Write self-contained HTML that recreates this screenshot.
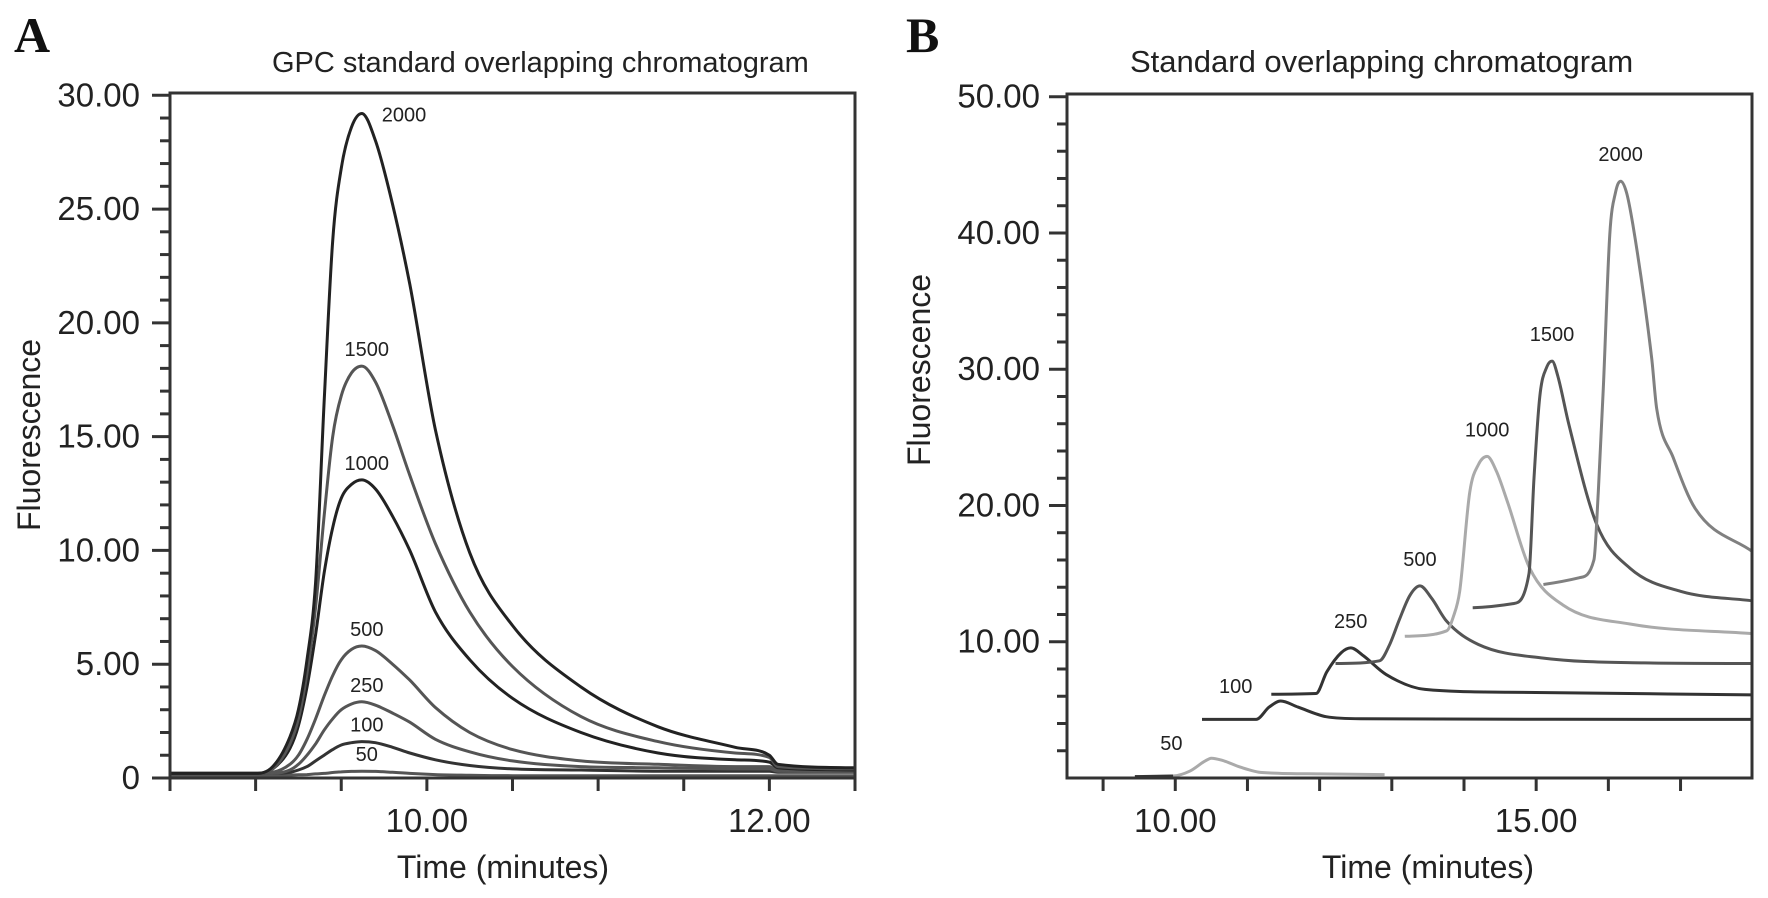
<!DOCTYPE html>
<html><head><meta charset="utf-8"><title>GPC standard overlapping chromatograms</title>
<style>
html,body{margin:0;padding:0;background:#fff;}
svg{display:block;}
text{font-family:"Liberation Sans",Arial,sans-serif;fill:#222;}
</style></head>
<body>
<svg id="fig" width="1768" height="898" viewBox="0 0 1768 898" xmlns="http://www.w3.org/2000/svg">
  <text x="14" y="52" style="font-family:'Liberation Serif',serif;font-weight:bold;font-size:50px;fill:#111">A</text>
  <text x="272" y="72" font-size="29">GPC standard overlapping chromatogram</text>
  <text x="0" y="0" font-size="32" text-anchor="middle" transform="translate(40,435) rotate(-90)">Fluorescence</text>
  <text x="503" y="878" font-size="32" text-anchor="middle">Time (minutes)</text>
  <text x="906" y="52" style="font-family:'Liberation Serif',serif;font-weight:bold;font-size:50px;fill:#111">B</text>
  <text x="1130" y="72" font-size="31">Standard overlapping chromatogram</text>
  <text x="0" y="0" font-size="32" text-anchor="middle" transform="translate(930,370) rotate(-90)">Fluorescence</text>
  <text x="1428" y="878" font-size="32" text-anchor="middle">Time (minutes)</text>
  <g id="plotA"></g>
  <g id="plotB"></g>
</svg>
<script>
// ---------- Panel A data ----------
const timesA = [8.5, 9.0, 9.1, 9.2, 9.25, 9.3, 9.35, 9.4, 9.45, 9.5, 9.56, 9.62, 9.7, 9.8, 9.9, 10.05, 10.25, 10.5, 10.9, 11.35, 11.8, 12.0, 12.05, 12.5];
const a2000 = [0.2,0.2,0.5,1.8,3.0,5.2,8.6,16.5,23.6,26.8,28.6,29.2,28.0,25.2,21.7,15.3,9.9,6.7,4.0,2.25,1.35,1.0,0.6,0.45];
const a1500 = [0.2,0.2,0.4,1.5,2.6,4.6,7.5,11.5,15,16.8,17.8,18.1,17.4,15.5,13.3,10.3,7.3,4.9,2.7,1.6,1.1,0.9,0.5,0.4];
const a1000 = [0.2,0.2,0.4,1.3,2.3,4.0,6.3,9,11,12.3,12.9,13.1,12.7,11.5,10,7.3,5.2,3.5,2.0,1.1,0.8,0.7,0.45,0.35];
const a500 = [0.2,0.2,0.25,0.6,1.0,1.7,2.6,3.6,4.5,5.2,5.65,5.8,5.6,5.0,4.3,3.1,2.0,1.25,0.75,0.6,0.5,0.5,0.35,0.3];
const a250 = [0.2,0.2,0.2,0.35,0.6,1.0,1.5,2.1,2.6,3.0,3.25,3.35,3.2,2.85,2.45,1.7,1.15,0.75,0.5,0.45,0.4,0.4,0.3,0.28];
const a100 = [0.2,0.2,0.2,0.25,0.35,0.5,0.75,1.0,1.25,1.45,1.55,1.6,1.55,1.35,1.1,0.8,0.55,0.4,0.35,0.3,0.3,0.3,0.25,0.25];
const a50 = [0.12,0.12,0.12,0.13,0.14,0.15,0.18,0.2,0.24,0.27,0.29,0.3,0.29,0.25,0.2,0.15,0.12,0.1,0.1,0.1,0.1,0.1,0.1,0.1];
const yTickLabelsA = ["0","5.00","10.00","15.00","20.00","25.00","30.00"];
const yTickValuesA = [0,5,10,15,20,25,30];
const xTickLabelsA = ["10.00","12.00"];
const xTickValuesA = [10,12];

// ---------- Panel B data ----------
const b50t = [9.44, 9.97, 10.2, 10.4, 10.5, 10.65, 10.9, 11.2, 12.0, 12.9];
const b50v = [0.1,0.15,0.5,1.2,1.45,1.3,0.8,0.4,0.3,0.25];
const b100t = [10.37, 11.12, 11.3, 11.46, 11.7, 12.09, 12.57, 18];
const b100v = [4.3,4.3,5.2,5.65,5.2,4.5,4.35,4.3];
const b250t = [11.33, 11.95, 12.1, 12.3, 12.43, 12.6, 12.92, 13.46, 14.6, 18];
const b250v = [6.15,6.2,7.8,9.2,9.55,9.0,7.6,6.5,6.3,6.1];
const b500t = [12.22, 12.83, 12.97, 13.11, 13.25, 13.39, 13.55, 13.76, 14.2, 15.1, 16.5, 18];
const b500v = [8.4,8.6,9.8,11.7,13.4,14.1,13.2,11.5,9.8,8.8,8.45,8.4];
const b1000t = [13.18, 13.76, 13.85, 13.94, 14.08, 14.2, 14.32, 14.45, 14.6, 14.91, 15.37, 16.3, 18];
const b1000v = [10.4,10.8,11.8,13.7,21,23,23.6,22.5,20.3,15.4,12.7,11.3,10.6];
const b1500t = [14.12, 14.68, 14.9, 14.97, 15.05, 15.15, 15.22, 15.3, 15.45, 15.84, 16.3, 17.0, 18];
const b1500v = [12.5,12.8,15,22,28,30.2,30.6,29.5,26,18.6,15.4,13.7,13.0];
const b2000t = [15.1, 15.6, 15.8, 15.86, 15.93, 16.02, 16.1, 16.17, 16.25, 16.34, 16.6, 16.67, 16.9, 17.2, 18];
const b2000v = [14.2,14.7,16,21,28.6,39.9,43,43.8,43,40.6,30.8,27.1,23.5,19.8,16.6];
const yTickLabelsB = ["10.00","20.00","30.00","40.00","50.00"];
const yTickValuesB = [10,20,30,40,50];
const xTickLabelsB = ["10.00","15.00"];
const xTickValuesB = [10,15];

const NS = "http://www.w3.org/2000/svg";
function mk(tag, attrs, parent){
  const e = document.createElementNS(NS, tag);
  for (const k in attrs) e.setAttribute(k, attrs[k]);
  parent.appendChild(e);
  return e;
}
const A = {x0:170, x1:855, y0:778, y1:93, tmin:8.5, tmax:12.5, vmin:0, vmax:30.1};
const B = {x0:1067, x1:1752, y0:778, y1:94, tmin:8.5, tmax:17.99, vmin:0, vmax:50.2};
function xA(t){ return A.x0 + (t - A.tmin) / (A.tmax - A.tmin) * (A.x1 - A.x0); }
function yA(v){ return A.y0 - (v - A.vmin) / (A.vmax - A.vmin) * (A.y0 - A.y1); }
function xB(t){ return B.x0 + (t - B.tmin) / (B.tmax - B.tmin) * (B.x1 - B.x0); }
function yB(v){ return B.y0 - (v - B.vmin) / (B.vmax - B.vmin) * (B.y0 - B.y1); }

function smoothPath(ts, vs, fx, fy){
  const X = ts.map(fx), Y = vs.map(fy), n = X.length;
  if (n < 3) return "M" + X.map((x,i)=>x.toFixed(1)+","+Y[i].toFixed(1)).join(" L");
  const d = [], m = [];
  for (let i=0;i<n-1;i++) d.push((Y[i+1]-Y[i])/(X[i+1]-X[i]));
  m.push(d[0]);
  for (let i=1;i<n-1;i++) m.push(d[i-1]*d[i] <= 0 ? 0 : (d[i-1]+d[i])/2);
  m.push(d[n-2]);
  for (let i=0;i<n-1;i++){
    if (d[i] === 0){ m[i]=0; m[i+1]=0; continue; }
    const a = m[i]/d[i], b = m[i+1]/d[i], s = a*a+b*b;
    if (s > 9){ const t = 3/Math.sqrt(s); m[i]=t*a*d[i]; m[i+1]=t*b*d[i]; }
  }
  let p = "M"+X[0].toFixed(1)+","+Y[0].toFixed(1);
  for (let i=0;i<n-1;i++){
    const h = (X[i+1]-X[i])/3;
    p += " C"+(X[i]+h).toFixed(1)+","+(Y[i]+m[i]*h).toFixed(1)+" "+(X[i+1]-h).toFixed(1)+","+(Y[i+1]-m[i+1]*h).toFixed(1)+" "+X[i+1].toFixed(1)+","+Y[i+1].toFixed(1);
  }
  return p;
}

const gA = document.getElementById('plotA');
const gB = document.getElementById('plotB');

// ---- Panel A series ----
const seriesA = [a50, a100, a250, a500, a1000, a1500, a2000];
const namesA = ["50","100","250","500","1000","1500","2000"];
const colorsA = ["#555","#333","#555","#555","#222","#555","#222"];
seriesA.forEach((vals, i) => {
  const p = mk('path', {d: smoothPath(timesA, vals, xA, yA), fill:'none', stroke:colorsA[i], 'stroke-width':3, 'stroke-linejoin':'round'}, gA);
  
  
  const peak = Math.max(...vals);
  const pi = vals.indexOf(peak);
  const lbl = mk('text', {x: (i===6 ? xA(timesA[pi]) + 20 : xA(timesA[pi]) + 5), y: yA(peak) - (i===6 ? -8 : 10), 'font-size':20, 'text-anchor': i===6 ? 'start':'middle'}, gA);
  lbl.textContent = namesA[i];
  
  
});

// ---- Panel A axes ----
let axA = mk('path', {d:`M${A.x0},${A.y1} H${A.x1} V${A.y0} H${A.x0} Z`, fill:'none', stroke:'#333', 'stroke-width':3}, gA);


for (let v = 0; v <= 30; v += 1) {
  const major = v % 5 === 0;
  const t = mk('line', {x1:A.x0 - (major ? 18 : 10), x2:A.x0, y1:yA(v), y2:yA(v), stroke:'#333', 'stroke-width':3}, gA);
  
  
}
yTickValuesA.forEach((v, i) => {
  const t = mk('text', {x:140, y:yA(v) + 11, 'font-size':33, 'text-anchor':'end'}, gA);
  t.textContent = yTickLabelsA[i];
  
  
});
for (let tt = 8.5; tt <= 12.01; tt += 0.5) {
  const t = mk('line', {x1:xA(tt), x2:xA(tt), y1:A.y0, y2:A.y0 + 13, stroke:'#333', 'stroke-width':3}, gA);
  
  
}
const endTickA = mk('line', {x1:A.x1, x2:A.x1, y1:A.y0, y2:A.y0+13, stroke:'#333','stroke-width':3}, gA);


xTickValuesA.forEach((v, i) => {
  const t = mk('text', {x:xA(v), y:832, 'font-size':33, 'text-anchor':'middle'}, gA);
  t.textContent = xTickLabelsA[i];
  
  
});

// ---- Panel B series ----
const seriesB = [[b50t,b50v],[b100t,b100v],[b250t,b250v],[b500t,b500v],[b1000t,b1000v],[b1500t,b1500v],[b2000t,b2000v]];
const namesB = ["50","100","250","500","1000","1500","2000"];
const colorsB = ["#aaa","#333","#333","#555","#aaa","#555","#808080"];
seriesB.forEach((s, i) => {
  const p = mk('path', {d: smoothPath(s[0], s[1], xB, yB), fill:'none', stroke:colorsB[i], 'stroke-width':3, 'stroke-linejoin':'round'}, gB);
  
  
  const peak = Math.max(...s[1]);
  const pi = s[1].indexOf(peak);
  const dx = (i === 1) ? -45 : (i === 0 ? -40 : 0);
  const dy = (i <= 1) ? -8 : -20;
  const lbl = mk('text', {x: xB(s[0][pi]) + dx, y: yB(peak) + dy, 'font-size':20, 'text-anchor':'middle'}, gB);
  lbl.textContent = namesB[i];
  
  
});
const d50 = mk('path', {d: smoothPath(b50t.slice(0,2), b50v.slice(0,2), xB, yB), fill:'none', stroke:'#333', 'stroke-width':3}, gB);



// ---- Panel B axes ----
let axB = mk('path', {d:`M${B.x0},${B.y1} H${B.x1} V${B.y0} H${B.x0} Z`, fill:'none', stroke:'#333', 'stroke-width':3}, gB);


for (let v = 2; v <= 50; v += 2) {
  const major = v % 10 === 0;
  const t = mk('line', {x1:B.x0 - (major ? 18 : 10), x2:B.x0, y1:yB(v), y2:yB(v), stroke:'#333', 'stroke-width':3}, gB);
  
  
}
yTickValuesB.forEach((v, i) => {
  const t = mk('text', {x:1040, y:yB(v) + 11, 'font-size':33, 'text-anchor':'end'}, gB);
  t.textContent = yTickLabelsB[i];
  
  
});
for (let tt = 9; tt <= 17; tt += 1) {
  const t = mk('line', {x1:xB(tt), x2:xB(tt), y1:B.y0, y2:B.y0 + 13, stroke:'#333', 'stroke-width':3}, gB);
  
  
}
xTickValuesB.forEach((v, i) => {
  const t = mk('text', {x:xB(v), y:832, 'font-size':33, 'text-anchor':'middle'}, gB);
  t.textContent = xTickLabelsB[i];
  
  
});
</script>
</body></html>
